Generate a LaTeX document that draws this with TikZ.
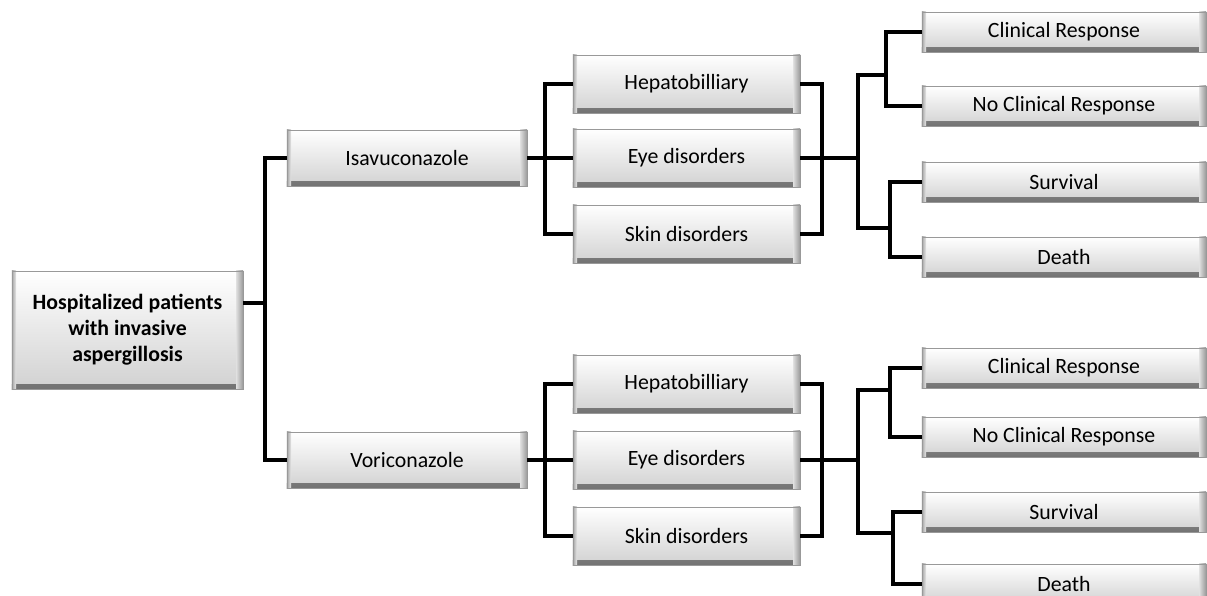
\documentclass[tikz,border=0pt]{standalone}
\usepackage{fontspec}
\setmainfont{Carlito}
\usepackage{tikz}
\usetikzlibrary{positioning}

\begin{document}
\begin{tikzpicture}[x=0.025cm, y=-0.025cm,
      font=\fontsize{15.5}{18}\selectfont,
      box/.style ={draw=black!40, line width=0.6pt, top color=white, bottom color=black!18,
                   minimum width=5.675cm, minimum height=1.45cm, inner sep=2pt,
                   path picture={
                     \shade[top color=black!30, bottom color=black!55]
                       (path picture bounding box.south west) rectangle
                       ([yshift=3pt]path picture bounding box.south east);
                     \shade[left color=black!12, right color=black!40]
                       ([xshift=-5pt]path picture bounding box.north east) rectangle
                       (path picture bounding box.south east);
                     \shade[left color=black!35, right color=black!8]
                       (path picture bounding box.north west) rectangle
                       ([xshift=3pt]path picture bounding box.south west);}},
      drug/.style={box, minimum width=6cm, minimum height=1.4cm},
      outc/.style={box, minimum width=7.1cm, minimum height=1cm},
      link/.style={line width=2.6pt, line join=miter}
    ]
    \clip (0,0) rectangle (1207,596);
    \fill[white] (0,0) rectangle (1207,596);

    % Wurzel und die beiden Arme
    \node[box, minimum width=5.775cm, minimum height=2.95cm, align=center, font=\fontsize{15.5}{18.5}\selectfont\bfseries]
      (root) at (127.5,330) {Hospitalized patients\\with invasive\\aspergillosis};
    \node[drug] (isa) at (407,158) {Isavuconazole};
    \node[drug] (vor) at (407,460) {Voriconazole};

    \coordinate (j0) at (265,303);
    \draw[link] (root.east |- j0) -- (j0);
    \draw[link] (isa.west) -| (j0) |- (vor.west);

    % Nebenwirkungen, oberer Arm
    \node[box] (hep1)  at (686.5,84)  {Hepatobilliary};
    \node[box] (eye1)  at (686.5,158) {Eye disorders};
    \node[box] (skin1) at (686.5,234) {Skin disorders};

    % Nebenwirkungen, unterer Arm
    \node[box] (hep2)  at (686.5,384) {Hepatobilliary};
    \node[box] (eye2)  at (686.5,460) {Eye disorders};
    \node[box] (skin2) at (686.5,536) {Skin disorders};

    % Ergebnisse oben
    \node[outc] (cr1)  at (1064,32)  {Clinical Response};
    \node[outc] (ncr1) at (1064,106) {No Clinical Response};
    \node[outc] (sv1)  at (1064,182) {Survival};
    \node[outc] (dt1)  at (1064,257) {Death};

    % Ergebnisse unten
    \node[outc] (cr2)  at (1064,368) {Clinical Response};
    \node[outc] (ncr2) at (1064,437) {No Clinical Response};
    \node[outc] (sv2)  at (1064,512) {Survival};
    \node[outc] (dt2)  at (1064,584) {Death};

    % Verzweigungspunkte
    \coordinate (s1) at (545,158);
    \coordinate (t1) at (822,158);
    \coordinate (u1) at (858,158);
    \coordinate (v1) at (886,75);
    \coordinate (w1) at (890,228);
    \coordinate (s2) at (545,460);
    \coordinate (t2) at (822,460);
    \coordinate (u2) at (858,460);
    \coordinate (v2) at (890,390);
    \coordinate (w2) at (893,533);

    % Baum oben
    \draw[link] (isa.east) -- (eye1.west);
    \draw[link] (hep1.west) -| (s1) |- (skin1.west);
    \draw[link] (hep1.east) -| (t1) |- (skin1.east);
    \draw[link] (eye1.east) -- (u1);
    \draw[link] (v1) -| (u1) |- (w1);
    \draw[link] (cr1.west) -| (v1) |- (ncr1.west);
    \draw[link] (sv1.west) -| (w1) |- (dt1.west);

    % Baum unten
    \draw[link] (vor.east) -- (eye2.west);
    \draw[link] (hep2.west) -| (s2) |- (skin2.west);
    \draw[link] (hep2.east) -| (t2) |- (skin2.east);
    \draw[link] (eye2.east) -- (u2);
    \draw[link] (v2) -| (u2) |- (w2);
    \draw[link] (cr2.west) -| (v2) |- (ncr2.west);
    \draw[link] (sv2.west) -| (w2) |- (dt2.west);
  \end{tikzpicture}
\end{document}
